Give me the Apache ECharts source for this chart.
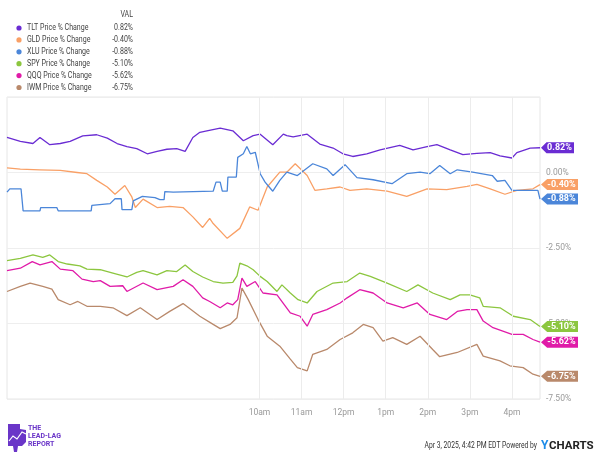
<!DOCTYPE html>
<html>
<head>
<meta charset="utf-8">
<script src="https://cdn.jsdelivr.net/npm/echarts@6/dist/echarts.min.js"></script>
<style>
  html, body { margin: 0; padding: 0; background: #fff; }
  #chart { width: 600px; height: 455px; }
</style>
</head>
<body>
<div id="chart"></div>
<script>
// x = minutes after midnight (EDT), y = % change
const tltData = [[240,1.16],[259,1.03],[277,0.96],[287,1.16],[301,0.92],[316,0.96],[330,1.03],[348,1.21],[368,1.25],[383,1.14],[397,0.96],[411,0.86],[425,0.79],[440,0.62],[454,0.70],[468,0.77],[482,0.79],[494,0.70],[505,1.16],[515,1.33],[525,1.38],[544,1.47],[562,1.38],[577,1.05],[591,1.22],[601,1.27],[619,0.92],[634,1.27],[639,1.22],[648,1.18],[668,1.27],[686,0.94],[705,0.81],[719,0.62],[733,0.53],[753,0.62],[772,0.75],[800,0.90],[819,0.75],[839,0.86],[853,0.92],[872,0.75],[890,0.59],[910,0.63],[929,0.66],[943,0.55],[960,0.48],[967,0.66],[986,0.81],[1000,0.82]];
const gldData = [[240,0.15],[259,0.11],[287,0.09],[316,0.07],[340,0.00],[354,-0.04],[368,-0.26],[383,-0.48],[394,-0.72],[408,-0.43],[418,-0.81],[423,-1.16],[434,-0.88],[454,-1.16],[472,-1.12],[491,-1.16],[505,-1.47],[519,-1.82],[529,-1.52],[534,-1.69],[554,-2.18],[572,-1.85],[586,-1.14],[598,-1.25],[611,-0.48],[629,0.01],[639,0.01],[651,0.29],[668,-0.10],[679,-0.59],[696,-0.54],[715,-0.48],[729,-0.59],[753,-0.54],[782,-0.62],[810,-0.79],[839,-0.54],[867,-0.57],[896,-0.46],[910,-0.39],[929,-0.54],[950,-0.72],[967,-0.59],[990,-0.54],[1000,-0.40]];
const xluData = [[240,-0.65],[244,-0.54],[260,-0.54],[263,-1.27],[287,-1.27],[288,-1.16],[311,-1.16],[313,-1.27],[360,-1.27],[361,-1.09],[387,-1.03],[394,-0.87],[403,-0.87],[404,-1.23],[418,-1.23],[420,-0.94],[433,-0.79],[451,-0.83],[458,-0.90],[464,-0.90],[465,-0.63],[477,-0.65],[534,-0.62],[538,-0.32],[544,-0.32],[547,-0.62],[554,-0.62],[555,-0.15],[567,-0.15],[569,0.50],[577,0.62],[582,0.86],[587,0.62],[594,0.67],[601,-0.04],[608,-0.32],[612,-0.43],[619,-0.62],[629,-0.26],[639,0.01],[654,-0.10],[676,0.29],[696,0.12],[705,-0.10],[722,0.26],[739,-0.17],[762,-0.24],[789,-0.37],[810,-0.04],[829,0.01],[843,-0.04],[857,0.23],[872,-0.04],[882,0.09],[904,0.01],[932,-0.10],[939,-0.29],[950,-0.26],[960,-0.59],[997,-0.59],[1000,-0.88]];
const spyData = [[240,-2.92],[259,-2.84],[277,-2.73],[291,-2.81],[301,-2.73],[313,-2.95],[326,-3.03],[344,-3.09],[354,-3.20],[373,-3.22],[391,-3.33],[411,-3.46],[425,-3.31],[434,-3.25],[454,-3.39],[468,-3.25],[482,-3.28],[494,-3.06],[505,-3.28],[519,-3.46],[534,-3.61],[548,-3.66],[562,-3.64],[568,-3.42],[572,-3.00],[582,-3.09],[591,-3.22],[601,-3.44],[611,-3.61],[625,-3.94],[632,-3.72],[644,-3.99],[655,-4.21],[668,-4.32],[682,-3.94],[705,-3.66],[725,-3.61],[743,-3.33],[758,-3.44],[782,-3.66],[810,-3.94],[826,-3.72],[847,-3.99],[872,-4.21],[886,-4.05],[900,-4.05],[914,-4.15],[919,-4.43],[943,-4.48],[962,-4.76],[986,-4.87],[1000,-5.10]];
const qqqData = [[240,-3.25],[259,-3.17],[276,-2.95],[287,-3.06],[304,-2.95],[316,-3.20],[334,-3.25],[347,-3.53],[363,-3.61],[373,-3.58],[387,-3.77],[405,-3.75],[411,-3.94],[434,-3.66],[454,-3.88],[477,-3.77],[491,-3.55],[505,-3.77],[519,-4.15],[529,-4.27],[544,-4.48],[554,-4.32],[562,-4.38],[569,-4.21],[575,-3.50],[582,-3.77],[594,-3.61],[605,-3.99],[625,-4.05],[644,-4.65],[658,-4.76],[668,-5.09],[676,-4.70],[696,-4.54],[715,-4.32],[725,-4.15],[743,-3.88],[762,-3.99],[782,-4.32],[805,-4.48],[825,-4.32],[843,-4.70],[867,-4.87],[882,-4.60],[896,-4.54],[910,-4.54],[919,-4.92],[933,-5.14],[960,-5.36],[976,-5.36],[990,-5.53],[1000,-5.62]];
const iwmData = [[240,-3.94],[259,-3.77],[273,-3.66],[291,-3.77],[304,-3.86],[313,-4.21],[330,-4.38],[341,-4.27],[354,-4.43],[373,-4.43],[391,-4.48],[411,-4.74],[430,-4.48],[454,-4.87],[472,-4.60],[491,-4.34],[515,-4.76],[534,-5.03],[544,-5.17],[558,-5.03],[568,-4.81],[575,-3.83],[584,-4.21],[598,-4.87],[611,-5.42],[629,-5.75],[644,-6.18],[654,-6.46],[668,-6.57],[676,-6.02],[696,-5.86],[715,-5.53],[733,-5.31],[748,-5.03],[762,-5.14],[776,-5.58],[790,-5.47],[810,-5.69],[829,-5.42],[847,-5.86],[857,-6.10],[882,-5.96],[910,-5.69],[919,-6.08],[943,-6.24],[957,-6.40],[976,-6.46],[990,-6.68],[1000,-6.75]];

const seriesNames = ['TLT Price % Change', 'GLD Price % Change', 'XLU Price % Change',
  'SPY Price % Change', 'QQQ Price % Change', 'IWM Price % Change'];
const seriesData = [tltData, gldData, xluData, spyData, qqqData, iwmData];
const colors = ['#6a2cd3', '#f9a066', '#4b86d9', '#8cc63f', '#e01ba8', '#b9896b'];

const hourTicks = [600, 660, 720, 780, 840, 900, 960];
const hourLabels = ['10am', '11am', '12pm', '1pm', '2pm', '3pm', '4pm'];

const pct = v => v.toFixed(2) + '%';
const tagPath = 'path://M0,5L5,0L30,0L30,10L5,10Z';

const chart = echarts.init(document.getElementById('chart'));

const series = seriesNames.map((name, i) => {
  const d = seriesData[i];
  const last = d[d.length - 1];
  const txt = pct(last[1]);
  const w = 13 + txt.length * 4;
  return {
    name: name,
    type: 'line',
    data: d,
    showSymbol: false,
    symbol: 'none',
    z: 3,
    lineStyle: { width: 1.3, color: colors[i] },
    itemStyle: { color: colors[i] },
    markPoint: {
      silent: true,
      symbol: tagPath,
      symbolSize: [w, 11],
      symbolOffset: [w / 2 + 1, 0],
      itemStyle: { color: colors[i] },
      label: {
        show: true,
        position: 'inside',
        offset: [2, 0],
        color: '#fff',
        fontWeight: 'bold',
        fontSize: 9,
        fontFamily: 'Roboto',
        formatter: () => txt
      },
      data: [{ coord: last }]
    }
  };
});

// vertical hour gridlines (only from 10am on)
series.unshift({
  type: 'line',
  data: [],
  z: 1,
  markLine: {
    silent: true,
    symbol: ['none', 'none'],
    label: { show: false },
    lineStyle: { color: '#ececec', type: 'solid', width: 1 },
    data: hourTicks.map(v => ({ xAxis: v }))
  }
});

// legend table drawn by hand: dot, name, last value (condensed text)
const legendFont = '8.8px Roboto';
const squeeze = 0.8;
const legendItems = [{ type: 'text', x: 133, y: 15, scaleX: squeeze, style: { text: 'VAL', textAlign: 'right',
  textVerticalAlign: 'middle', font: legendFont, fill: '#444' } }];
seriesNames.forEach((name, i) => {
  const d = seriesData[i];
  const y = 28 + i * 11.9;
  legendItems.push(
    { type: 'circle', shape: { cx: 19, cy: y, r: 2.6 }, style: { fill: colors[i] } },
    { type: 'text', x: 27, y: y, scaleX: squeeze, style: { text: name, textVerticalAlign: 'middle',
        font: legendFont, fill: '#444' } },
    { type: 'text', x: 133, y: y, scaleX: squeeze, style: { text: pct(d[d.length - 1][1]), textAlign: 'right',
        textVerticalAlign: 'middle', font: legendFont, fill: '#444' } }
  );
});

chart.setOption({
  animation: false,
  color: colors,
  textStyle: { fontFamily: 'Roboto' },
  grid: {
    left: 7, right: 60, top: 97, bottom: 56,
    show: true, borderColor: '#e6e6e6', borderWidth: 1
  },
  xAxis: {
    type: 'value',
    min: 240,
    max: 1000,
    interval: 60,
    axisLine: { show: false },
    axisTick: { show: false },
    splitLine: { show: false },
    axisLabel: {
      color: '#999',
      fontSize: 8.5,
      margin: 9,
      showMaxLabel: false,
      formatter: v => {
        const k = hourTicks.indexOf(v);
        return k >= 0 ? hourLabels[k] : '';
      }
    }
  },
  yAxis: {
    type: 'value',
    position: 'right',
    min: -7.5,
    max: 2.5,
    interval: 2.5,
    axisLine: { show: false },
    axisTick: { show: false },
    splitLine: { lineStyle: { color: '#eeeeee' } },
    axisLabel: {
      color: '#999',
      fontSize: 8.5,
      margin: 6,
      padding: [0, 0, 6, 0],
      showMaxLabel: false,
      formatter: v => pct(v)
    }
  },
  graphic: legendItems.concat([
    // logo
    { type: 'polygon', shape: { points: [[8,424],[20,424],[20,429],[26,430],[26,442],[22,446],[18,446],[17,452],[14,452],[13,446],[8,446]] },
      style: { fill: '#6a35c8' } },
    { type: 'polyline', shape: { points: [[9,441],[13,436],[17,439],[22,432],[26,434]] },
      style: { stroke: '#fff', lineWidth: 1.2, fill: null } },
    { type: 'text', x: 28, y: 428, style: { text: 'THE', font: 'bold 7px Roboto', fill: '#6a35c8',
        textVerticalAlign: 'middle' } },
    { type: 'text', x: 28, y: 436, style: { text: 'LEAD-LAG', font: 'bold 7px Roboto', fill: '#6a35c8',
        textVerticalAlign: 'middle' } },
    { type: 'text', x: 28, y: 444, style: { text: 'REPORT', font: 'bold 7px Roboto', fill: '#6a35c8',
        textVerticalAlign: 'middle' } },
    // footer
    { type: 'text', x: 537, y: 446, scaleX: 0.71, style: { text: 'Apr 3, 2025, 4:42 PM EDT Powered by',
        textAlign: 'right', textVerticalAlign: 'middle', font: '9.5px Roboto', fill: '#333' } },
    { type: 'text', x: 541, y: 446, style: { text: 'Y', textVerticalAlign: 'middle',
        font: 'bold 12px Roboto', fill: '#1d8ce8' } },
    { type: 'text', x: 549, y: 446, style: { text: 'CHARTS', textVerticalAlign: 'middle',
        font: 'bold 11.5px Roboto', fill: '#222' } }
  ]),
  series: series
});
</script>
</body>
</html>
